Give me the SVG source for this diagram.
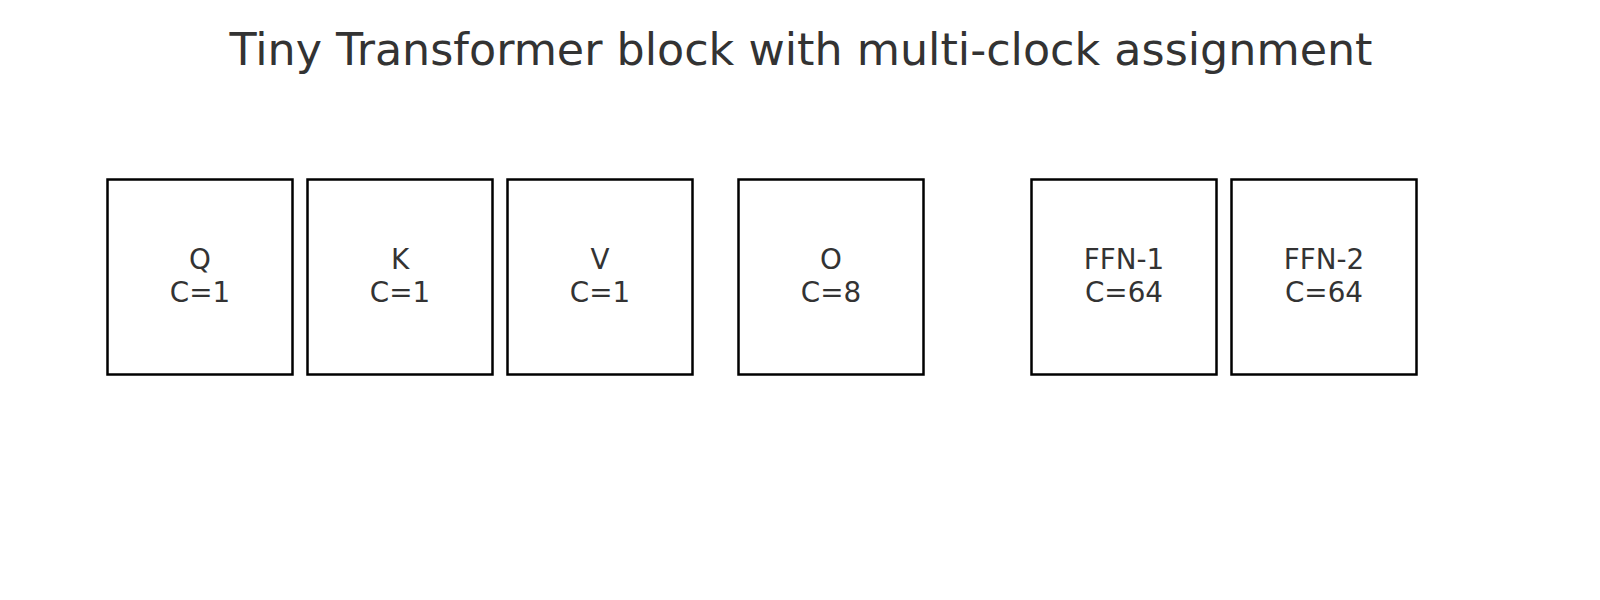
<svg xmlns="http://www.w3.org/2000/svg" width="1600" height="600" viewBox="0 0 1600 600">
<style>
.box{fill:#ffffff;stroke:#000000;stroke-width:2.5}
.lbl{font-family:"DejaVu Sans",sans-serif;font-size:27.8px;fill:#333333;text-anchor:middle}
.title{font-family:"DejaVu Sans",sans-serif;font-size:44.4px;fill:#333333;text-anchor:middle}
</style>
<rect width="1600" height="600" fill="#ffffff"/>
<text class="title" x="801" y="65">Tiny Transformer block with multi-clock assignment</text>
<g id="connectors"></g>
<g id="node-Q"><rect class="box" x="107.5" y="179.5" width="185" height="195"/><text class="lbl" x="200" y="269">Q</text><text class="lbl" x="200" y="302">C=1</text></g>
<g id="node-K"><rect class="box" x="307.5" y="179.5" width="185" height="195"/><text class="lbl" x="400" y="269">K</text><text class="lbl" x="400" y="302">C=1</text></g>
<g id="node-V"><rect class="box" x="507.5" y="179.5" width="185" height="195"/><text class="lbl" x="600" y="269">V</text><text class="lbl" x="600" y="302">C=1</text></g>
<g id="node-O"><rect class="box" x="738.5" y="179.5" width="185" height="195"/><text class="lbl" x="831" y="269">O</text><text class="lbl" x="831" y="302">C=8</text></g>
<g id="node-FFN1"><rect class="box" x="1031.5" y="179.5" width="185" height="195"/><text class="lbl" x="1124" y="269">FFN-1</text><text class="lbl" x="1124" y="302">C=64</text></g>
<g id="node-FFN2"><rect class="box" x="1231.5" y="179.5" width="185" height="195"/><text class="lbl" x="1324" y="269">FFN-2</text><text class="lbl" x="1324" y="302">C=64</text></g>
</svg>
